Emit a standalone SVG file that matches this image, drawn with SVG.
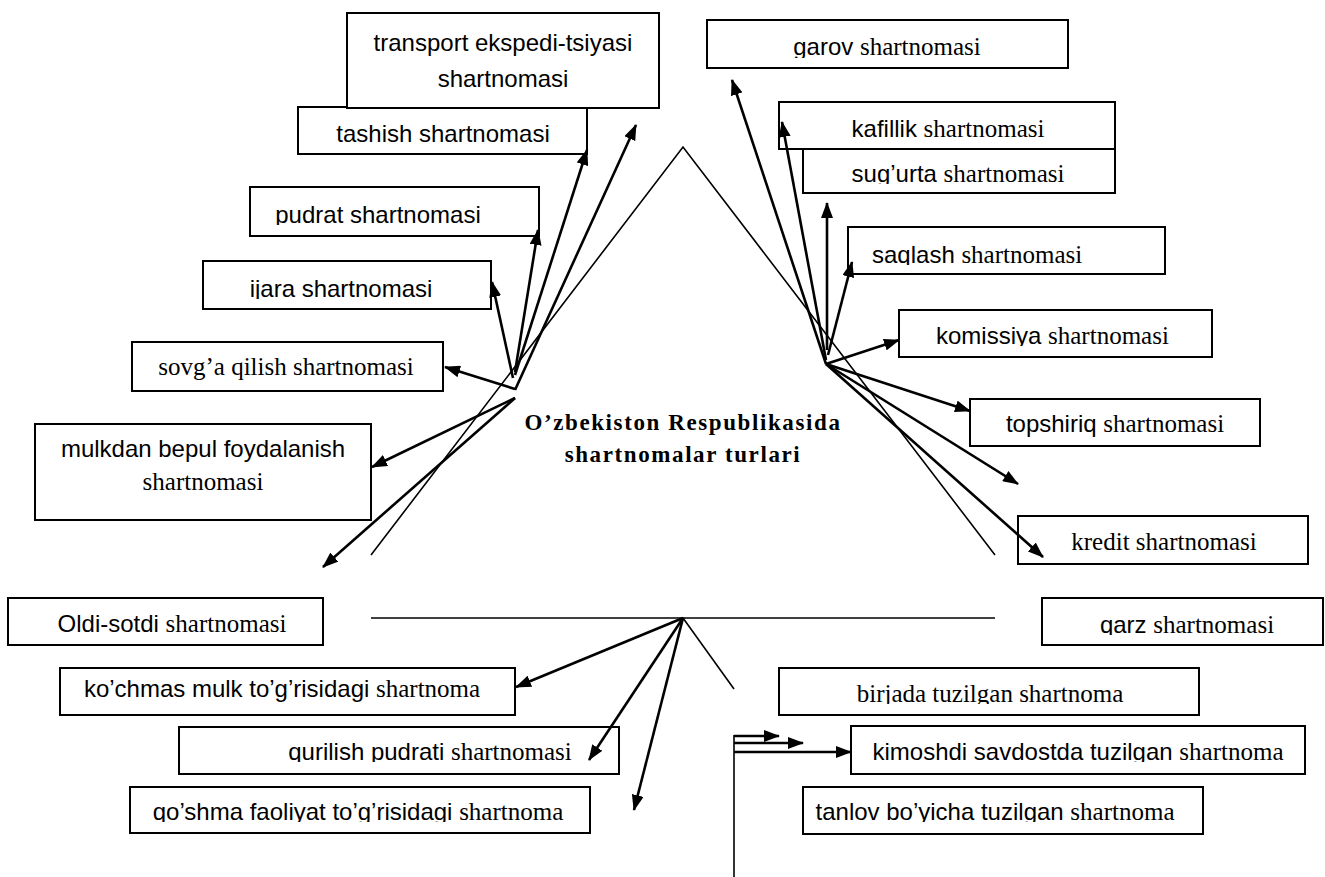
<svg xmlns="http://www.w3.org/2000/svg" width="1325" height="877" viewBox="0 0 1325 877">
<defs>
<marker id="ah" viewBox="0 0 16 12" refX="15" refY="6" markerWidth="16" markerHeight="12" markerUnits="userSpaceOnUse" orient="auto">
<path d="M0,0 L16,6 L0,12 Z" fill="#000"/>
</marker>
<clipPath id="c-garov"><rect x="707" y="20" width="361" height="38"/></clipPath>
<clipPath id="c-sug"><rect x="803" y="149" width="312" height="35"/></clipPath>
<clipPath id="c-pudrat"><rect x="250" y="187" width="289" height="38"/></clipPath>
<clipPath id="c-ijara"><rect x="203" y="261" width="288" height="38"/></clipPath>
<clipPath id="c-saqlash"><rect x="848" y="227" width="317" height="38"/></clipPath>
<clipPath id="c-komissiya"><rect x="899" y="310" width="313" height="36"/></clipPath>
<clipPath id="c-qarz"><rect x="1042" y="598" width="281" height="37"/></clipPath>
<clipPath id="c-birjada"><rect x="779" y="668" width="420" height="36"/></clipPath>
<clipPath id="c-qurilish"><rect x="179" y="727" width="440" height="35"/></clipPath>
<clipPath id="c-kimoshdi"><rect x="851" y="726" width="454" height="36"/></clipPath>
<clipPath id="c-qoshma"><rect x="130" y="787" width="460" height="35"/></clipPath>
<clipPath id="c-tanlov"><rect x="803" y="787" width="400" height="35"/></clipPath>
<style>
.box{fill:#fff;stroke:#000;stroke-width:2}
.s{font-family:"Liberation Sans",Arial,sans-serif;font-size:24px;fill:#000}
.r{font-family:"Liberation Serif","Times New Roman",serif;font-size:25px;fill:#000}
.t{font-family:"Liberation Serif","Times New Roman",serif;font-size:23px;font-weight:bold;letter-spacing:1.6px;fill:#000}
.arr{stroke:#000;stroke-width:2.6;fill:none;marker-end:url(#ah)}
.thin{stroke:#000;stroke-width:1.6;fill:none}
</style>
</defs>
<rect width="1325" height="877" fill="#fff"/>

<g id="title">
<text class="t" x="683" y="430" text-anchor="middle">O’zbekiston Respublikasida</text>
<text class="t" x="683" y="462" text-anchor="middle">shartnomalar turlari</text>
</g>

<g id="n-tashish"><rect class="box" x="298" y="107" width="289" height="47"/><text class="s" x="443" y="142" text-anchor="middle">tashish shartnomasi</text></g>
<g id="n-transport"><rect class="box" x="347" y="13" width="312" height="95"/><text class="s" x="503" y="51" text-anchor="middle">transport ekspedi-tsiyasi</text><text class="s" x="503" y="87" text-anchor="middle">shartnomasi</text></g>
<g id="n-garov"><rect class="box" x="707" y="20" width="361" height="48"/><text x="887" y="55" text-anchor="middle" clip-path="url(#c-garov)"><tspan class="s">garov </tspan><tspan class="r">shartnomasi</tspan></text></g>
<g id="n-kafillik"><rect class="box" x="779" y="102" width="336" height="47"/><text x="948" y="137" text-anchor="middle"><tspan class="s">kafillik </tspan><tspan class="r">shartnomasi</tspan></text></g>
<g id="n-sugurta"><rect class="box" x="803" y="149" width="312" height="44"/><text x="958" y="182" text-anchor="middle" clip-path="url(#c-sug)"><tspan class="s">sug’urta </tspan><tspan class="r">shartnomasi</tspan></text></g>
<g id="n-pudrat"><rect class="box" x="250" y="187" width="289" height="49"/><text class="s" x="378" y="223" text-anchor="middle" clip-path="url(#c-pudrat)">pudrat shartnomasi</text></g>
<g id="n-ijara"><rect class="box" x="203" y="261" width="288" height="48"/><text class="s" x="341" y="297" text-anchor="middle" clip-path="url(#c-ijara)">ijara shartnomasi</text></g>
<g id="n-sovga"><rect class="box" x="132" y="342" width="311" height="49"/><text class="r" x="286" y="375" text-anchor="middle">sovg’a qilish shartnomasi</text></g>
<g id="n-mulkdan"><rect class="box" x="35" y="424" width="336" height="96"/><text class="s" x="203" y="457" text-anchor="middle">mulkdan bepul foydalanish</text><text class="r" x="203" y="490" text-anchor="middle">shartnomasi</text></g>
<g id="n-saqlash"><rect class="box" x="848" y="227" width="317" height="47"/><text x="872" y="263" clip-path="url(#c-saqlash)"><tspan class="s">saqlash </tspan><tspan class="r">shartnomasi</tspan></text></g>
<g id="n-komissiya"><rect class="box" x="899" y="310" width="313" height="47"/><text x="936" y="344" clip-path="url(#c-komissiya)"><tspan class="s">komissiya </tspan><tspan class="r">shartnomasi</tspan></text></g>
<g id="n-topshiriq"><rect class="box" x="970" y="399" width="290" height="47"/><text x="1115" y="432" text-anchor="middle"><tspan class="s">topshiriq </tspan><tspan class="r">shartnomasi</tspan></text></g>
<g id="n-kredit"><rect class="box" x="1018" y="516" width="290" height="48"/><text class="r" x="1164" y="550" text-anchor="middle">kredit shartnomasi</text></g>
<g id="n-oldi"><rect class="box" x="8" y="598" width="315" height="47"/><text x="172" y="632" text-anchor="middle"><tspan class="s">Oldi-sotdi </tspan><tspan class="r">shartnomasi</tspan></text></g>
<g id="n-qarz"><rect class="box" x="1042" y="598" width="281" height="47"/><text x="1187" y="633" text-anchor="middle" clip-path="url(#c-qarz)"><tspan class="s">qarz </tspan><tspan class="r">shartnomasi</tspan></text></g>
<g id="n-kochmas"><rect class="box" x="60" y="668" width="455" height="47"/><text x="282" y="697" text-anchor="middle"><tspan class="s">ko’chmas mulk to’g’risidagi </tspan><tspan class="r">shartnoma</tspan></text></g>
<g id="n-birjada"><rect class="box" x="779" y="668" width="420" height="47"/><text class="r" x="990" y="702" text-anchor="middle" clip-path="url(#c-birjada)">birjada tuzilgan shartnoma</text></g>
<g id="n-qurilish"><rect class="box" x="179" y="727" width="440" height="47"/><text x="430" y="760" text-anchor="middle" clip-path="url(#c-qurilish)"><tspan class="s">qurilish pudrati </tspan><tspan class="r">shartnomasi</tspan></text></g>
<g id="n-kimoshdi"><rect class="box" x="851" y="726" width="454" height="48"/><text x="1078" y="760" text-anchor="middle" clip-path="url(#c-kimoshdi)"><tspan class="s">kimoshdi savdostda tuzilgan </tspan><tspan class="r">shartnoma</tspan></text></g>
<g id="n-qoshma"><rect class="box" x="130" y="787" width="460" height="46"/><text x="358" y="820" text-anchor="middle" clip-path="url(#c-qoshma)"><tspan class="s">qo’shma faoliyat to’g’risidagi </tspan><tspan class="r">shartnoma</tspan></text></g>
<g id="n-tanlov"><rect class="box" x="803" y="787" width="400" height="47"/><text x="995" y="820" text-anchor="middle" clip-path="url(#c-tanlov)"><tspan class="s">tanlov bo’yicha tuzilgan </tspan><tspan class="r">shartnoma</tspan></text></g>

<g id="connectors">
<polyline class="thin" points="371,555 683,147 995,555"/>
<line class="thin" x1="371" y1="618" x2="995" y2="618" stroke-width="2"/>
<line class="arr" x1="515" y1="390" x2="636" y2="125"/>
<line class="arr" x1="515" y1="375" x2="587" y2="150"/>
<line class="arr" x1="515" y1="372" x2="538" y2="230"/>
<line class="arr" x1="513" y1="378" x2="492" y2="282"/>
<line class="arr" x1="515" y1="389" x2="445" y2="367"/>
<line class="arr" x1="515" y1="398" x2="372" y2="467"/>
<line class="arr" x1="515" y1="398" x2="323" y2="567"/>
<line class="arr" x1="826" y1="364" x2="732" y2="80"/>
<line class="arr" x1="826" y1="360" x2="782" y2="122"/>
<line class="arr" x1="827" y1="350" x2="827" y2="203"/>
<line class="arr" x1="828" y1="355" x2="852" y2="262"/>
<line class="arr" x1="826" y1="364" x2="899" y2="340"/>
<line class="arr" x1="826" y1="364" x2="970" y2="411"/>
<line class="arr" x1="826" y1="364" x2="1018" y2="484"/>
<line class="arr" x1="826" y1="364" x2="1043" y2="557"/>
<line class="arr" x1="683" y1="618" x2="516" y2="687"/>
<line class="arr" x1="683" y1="618" x2="589" y2="760"/>
<line class="arr" x1="683" y1="618" x2="634" y2="810"/>
<line class="thin" x1="683" y1="618" x2="734" y2="689"/>
<line class="thin" x1="734" y1="735" x2="734" y2="877" stroke-width="2.2"/>
<line class="arr" x1="734" y1="736" x2="779" y2="736" stroke-width="2.2"/>
<line class="arr" x1="734" y1="743" x2="803" y2="743" stroke-width="2.2"/>
<line class="arr" x1="734" y1="752" x2="851" y2="752" stroke-width="2.2"/>
</g>
</svg>
